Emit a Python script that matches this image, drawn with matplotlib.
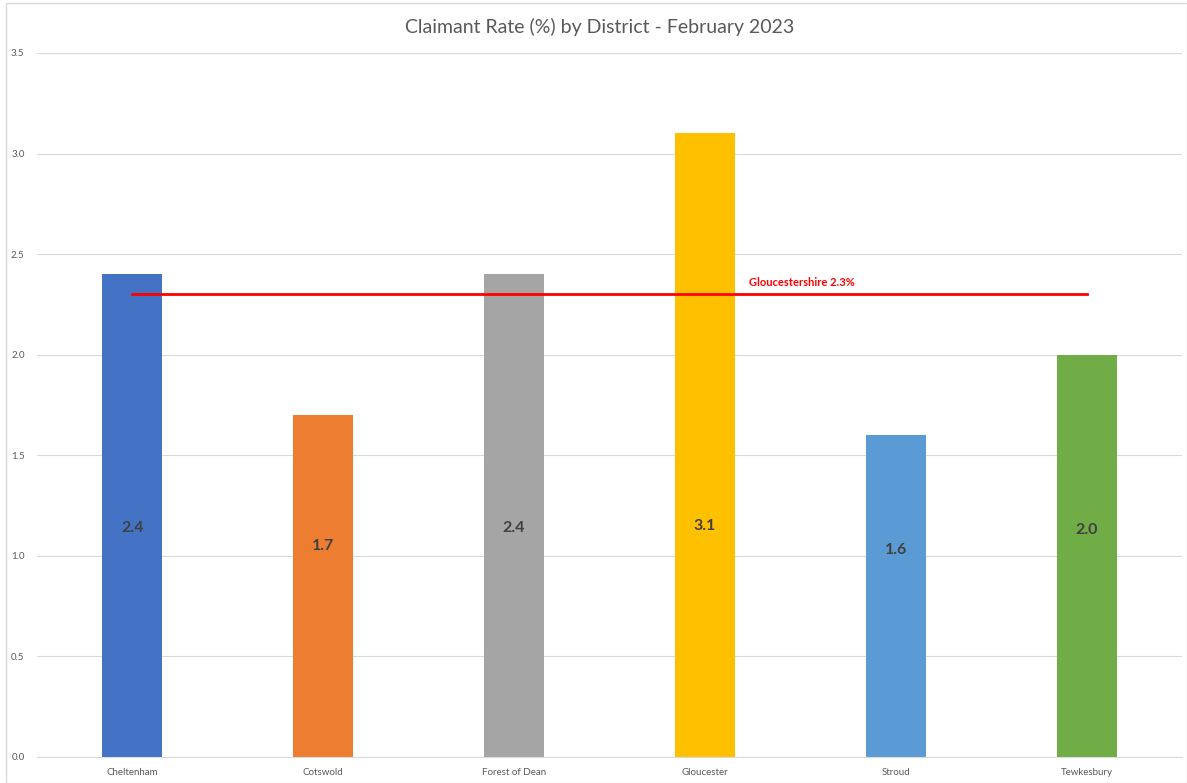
import matplotlib.pyplot as plt
from matplotlib.patches import Rectangle

# Claimant rate by district, Feb 2023
districts = ['Cheltenham', 'Cotswold', 'Forest of Dean', 'Gloucester', 'Stroud', 'Tewkesbury']
rates = [2.4, 1.7, 2.4, 3.1, 1.6, 2.0]
label_heights = [1.14, 1.05, 1.14, 1.15, 1.03, 1.13]
county_rate = 2.3
colors = ['#4472C4', '#ED7D31', '#A5A5A5', '#FFC000', '#5B9BD5', '#70AD47']
yticks = [0.0, 0.5, 1.0, 1.5, 2.0, 2.5, 3.0, 3.5]

plt.rcParams['font.family'] = ['Lato', 'DejaVu Sans']

W, H = 1187, 783
fig = plt.figure(figsize=(W / 100, H / 100), dpi=100)
ax = fig.add_axes([37 / W, 1 - 757 / H, (1182 - 37) / W, (757 - 53) / H])

x = list(range(len(districts)))
ax.bar(x, rates, width=0.315, color=colors, zorder=2)

for xi, v, ly in zip(x, rates, label_heights):
    ax.text(xi, ly, '{:.1f}'.format(v), ha='center', va='center',
            fontsize=11.5, fontweight='bold', color='#404040', zorder=3)

ax.plot([x[0], x[-1]], [county_rate, county_rate], color='#FF0000', lw=2, zorder=4)
ax.text(3.23, 2.36, 'Gloucestershire {}%'.format(county_rate), color='#FF0000',
        fontsize=8, fontweight='bold', ha='left', va='center')

ax.set_xlim(-0.5, len(districts) - 0.5)
ax.set_ylim(0, 3.5)
ax.set_yticks(yticks)
ax.set_yticklabels(['{:.1f}'.format(t) for t in yticks])
ax.set_xticks(x)
ax.set_xticklabels(districts)
ax.tick_params(axis='both', length=0, labelsize=7, labelcolor='#595959')
ax.tick_params(axis='y', pad=9)
ax.tick_params(axis='x', pad=8)
ax.grid(axis='y', color='#D9D9D9', lw=0.8, zorder=0)
for s in ['top', 'right', 'left']:
    ax.spines[s].set_visible(False)
ax.spines['bottom'].set_color('#D9D9D9')

fig.text(600 / W, 1 - 27 / H, 'Claimant Rate (%) by District - February 2023',
         ha='center', va='center', fontsize=14, color='#595959')

fig.patches.append(Rectangle((6 / W, 0), 1 - 6 / W, 1 - 3 / H, transform=fig.transFigure,
                             fill=False, edgecolor='#D9D9D9', lw=1))

plt.savefig('out.png', dpi=100)
